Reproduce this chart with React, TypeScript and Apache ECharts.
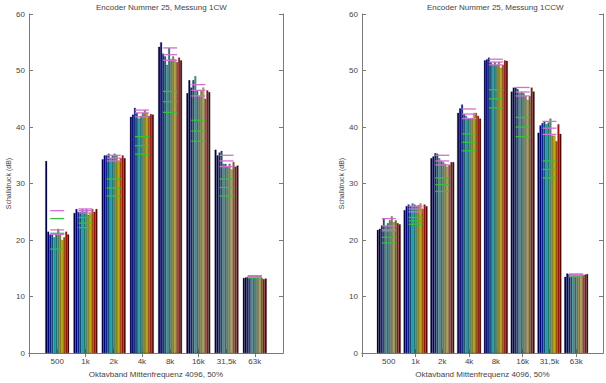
import React, { useEffect, useRef } from "react";
import * as echarts from "echarts";

const categories = ["500", "1k", "2k", "4k", "8k", "16k", "31,5k", "63k"];
const titleLeft = "Encoder Nummer 25, Messung 1CW";
const titleRight = "Encoder Nummer 25, Messung 1CCW";
const xName = "Oktavband Mittenfrequenz 4096, 50%";
const yName = "Schalldruck (dB)";

// 12 measurements per band (rows = measurement, cols = band)
const leftValues: number[][] = [
  [34.0, 24.8, 34.3, 41.8, 54.2, 46.0, 36.0, 13.3],
  [21.5, 25.5, 35.0, 42.2, 55.0, 48.3, 35.0, 13.4],
  [21.0, 25.0, 35.0, 43.4, 53.0, 47.0, 35.5, 13.5],
  [21.0, 25.0, 35.3, 42.5, 52.5, 48.3, 35.8, 13.4],
  [20.5, 25.5, 34.5, 41.5, 51.0, 49.0, 33.5, 13.3],
  [21.0, 25.0, 35.0, 42.0, 54.0, 46.5, 33.5, 13.4],
  [22.0, 25.5, 35.3, 42.5, 52.0, 45.5, 33.0, 13.5],
  [21.0, 24.5, 35.0, 43.0, 52.5, 46.5, 33.5, 13.4],
  [20.0, 24.8, 34.0, 42.5, 52.0, 47.0, 32.5, 13.2],
  [20.5, 25.5, 34.5, 42.0, 51.5, 45.0, 33.8, 13.3],
  [21.5, 25.0, 35.0, 42.3, 52.3, 46.5, 33.0, 13.1],
  [21.0, 25.5, 34.5, 42.2, 51.8, 46.2, 33.2, 13.2],
];
const rightValues: number[][] = [
  [21.8, 25.3, 34.5, 42.5, 51.8, 46.3, 39.0, 13.5],
  [22.0, 26.0, 34.8, 43.3, 52.0, 47.0, 40.3, 14.1],
  [22.6, 26.3, 35.4, 44.0, 52.3, 47.0, 40.7, 14.0],
  [23.8, 26.0, 35.3, 42.3, 51.5, 46.7, 41.0, 13.8],
  [22.5, 26.5, 34.5, 42.0, 51.0, 46.0, 40.5, 13.7],
  [23.0, 26.3, 34.0, 41.5, 51.5, 46.2, 40.8, 13.6],
  [23.5, 26.0, 33.8, 41.5, 51.0, 46.0, 41.5, 13.8],
  [24.2, 26.2, 33.5, 41.5, 51.5, 45.5, 38.5, 13.7],
  [23.2, 26.5, 33.0, 42.5, 50.5, 44.8, 38.5, 13.6],
  [23.5, 25.5, 33.3, 42.5, 51.0, 45.5, 37.5, 13.8],
  [23.0, 26.3, 33.8, 42.0, 51.8, 47.0, 40.5, 13.9],
  [22.8, 26.0, 33.8, 41.5, 51.7, 46.3, 38.8, 14.0],
];

// error-bar levels per band
const leftGreen: number[][] = [
  [23.8, 21.2, 18.4], [24.0, 23.0, 22.2], [30.8, 29.2, 27.8], [38.3, 36.7, 35.2],
  [46.3, 44.5, 42.6], [41.2, 39.3, 37.5], [30.8, 29.3, 27.8], [13.6, 13.4, 13.3],
];
const leftMagenta: number[][] = [
  [25.2, 21.8, 21.0], [25.5, 25.2, 24.8], [35.0, 34.5, 34.0], [43.0, 42.5, 41.8],
  [54.0, 52.8, 51.8], [47.5, 46.5, 45.5], [35.0, 34.0, 33.0], [13.7, 13.5, 13.4],
];
const rightGreen: number[][] = [
  [21.6, 20.5, 19.5], [24.0, 23.4, 22.8], [31.0, 29.8, 28.6], [38.8, 37.3, 35.8],
  [46.6, 45.0, 43.4], [41.7, 40.0, 38.3], [34.0, 32.5, 31.0], [13.8, 13.6, 13.5],
];
const rightMagenta: number[][] = [
  [23.8, 22.5, 21.8], [26.0, 25.5, 25.0], [35.0, 34.0, 33.3], [43.2, 42.3, 41.5],
  [52.0, 51.5, 51.0], [47.0, 46.2, 45.5], [41.0, 39.8, 38.7], [14.0, 13.9, 13.7],
];

const yTicks = [0, 10, 20, 30, 40, 50, 60];

const colors = [
  "#00004a", "#000085", "#0a2896", "#1a5580", "#28a8b8", "#268080",
  "#5f9070", "#8f9030", "#c8b818", "#a85814", "#a8160c", "#600804",
];

const FONT = "Liberation Sans";
const axisGray = "#7a7a7a";
const textGray = "#444";

export default function App() {
  const ref = useRef<HTMLDivElement>(null);
  useEffect(() => {
    if (!ref.current) return;
    const chart = echarts.init(ref.current, undefined, { renderer: "svg" });
    const cats = ["", ...categories, ""];
    const grids = [
      { left: 29, top: 14, width: 254, height: 348, show: false },
      { left: 362, top: 14, width: 254, height: 348, show: false },
    ];
    const xAxes: any[] = [];
    const yAxes: any[] = [];
    [0, 1].forEach((g) => {
      xAxes.push({
        type: "category", gridIndex: g, data: cats, boundaryGap: false, position: "bottom",
        axisLine: { lineStyle: { color: axisGray, width: 1 } },
        axisTick: { inside: true, length: 4, lineStyle: { color: axisGray } },
        axisLabel: { fontSize: 8, color: textGray, fontFamily: FONT, margin: 4, interval: 0 },
        name: xName, nameLocation: "middle", nameGap: 14,
        nameTextStyle: { fontSize: 8, color: textGray, fontFamily: FONT },
        splitLine: { show: false },
      });
      xAxes.push({
        type: "category", gridIndex: g, data: cats, boundaryGap: false, position: "top",
        axisLine: { lineStyle: { color: axisGray, width: 1 } },
        axisTick: { inside: true, length: 4, lineStyle: { color: axisGray } },
        axisLabel: { show: false }, splitLine: { show: false },
      });
      yAxes.push({
        type: "value", gridIndex: g, min: 0, max: 60, interval: 10, position: "left",
        axisLine: { show: true, lineStyle: { color: axisGray, width: 1 } },
        axisTick: { show: true, inside: true, length: 4, lineStyle: { color: axisGray } },
        axisLabel: { fontSize: 8, color: textGray, fontFamily: FONT, margin: 4,
          formatter: (v: number) => (yTicks.includes(v) ? String(v) : "") },
        splitLine: { show: false },
        name: yName, nameLocation: "middle", nameGap: 14, nameRotate: 90,
        nameTextStyle: { fontSize: 7, color: textGray, fontFamily: FONT },
      });
      yAxes.push({
        type: "value", gridIndex: g, min: 0, max: 60, interval: 10, position: "right",
        axisLine: { show: true, lineStyle: { color: axisGray, width: 1 } },
        axisTick: { show: true, inside: true, length: 4, lineStyle: { color: axisGray } },
        axisLabel: { show: false }, splitLine: { show: false },
      });
    });

    const series: any[] = [];
    const addPlot = (g: number, vals: number[][], green: number[][], mag: number[][]) => {
      vals.forEach((row, i) => {
        series.push({
          type: "bar", xAxisIndex: g * 2, yAxisIndex: g * 2,
          data: ["-", ...row, "-"], barWidth: 2, barGap: "0%",
          itemStyle: { color: colors[i], borderColor: "rgba(0,0,0,0.55)", borderWidth: 0.4 },
          silent: true,
        });
      });
      const mk = (levels: number[][], color: string) => {
        const d: number[][] = [];
        levels.forEach((ls, ci) => ls.forEach((v) => d.push([ci + 1, v])));
        series.push({
          type: "scatter", xAxisIndex: g * 2, yAxisIndex: g * 2, data: d,
          symbol: "rect", symbolSize: [14, 1.3], z: 5,
          itemStyle: { color, opacity: 1 }, silent: true,
        });
      };
      mk(green, "#38c038");
      mk(mag, "#d070d0");
    };
    addPlot(0, leftValues, leftGreen, leftMagenta);
    addPlot(1, rightValues, rightGreen, rightMagenta);

    chart.setOption({
      animation: false,
      backgroundColor: "#ffffff",
      grid: grids,
      xAxis: xAxes,
      yAxis: yAxes,
      series,
      graphic: [
        { type: "text", left: 156 - 60, top: 3, style: { text: titleLeft, fontSize: 8, fill: textGray, fontFamily: FONT, width: 120, align: "center" } },
        { type: "text", left: 489 - 62, top: 3, style: { text: titleRight, fontSize: 8, fill: textGray, fontFamily: FONT, width: 124, align: "center" } },
      ],
    });
    return () => chart.dispose();
  }, []);
  return <div ref={ref} style={{ position: "fixed", left: 0, top: 0, width: 606, height: 383 }} />;
}
